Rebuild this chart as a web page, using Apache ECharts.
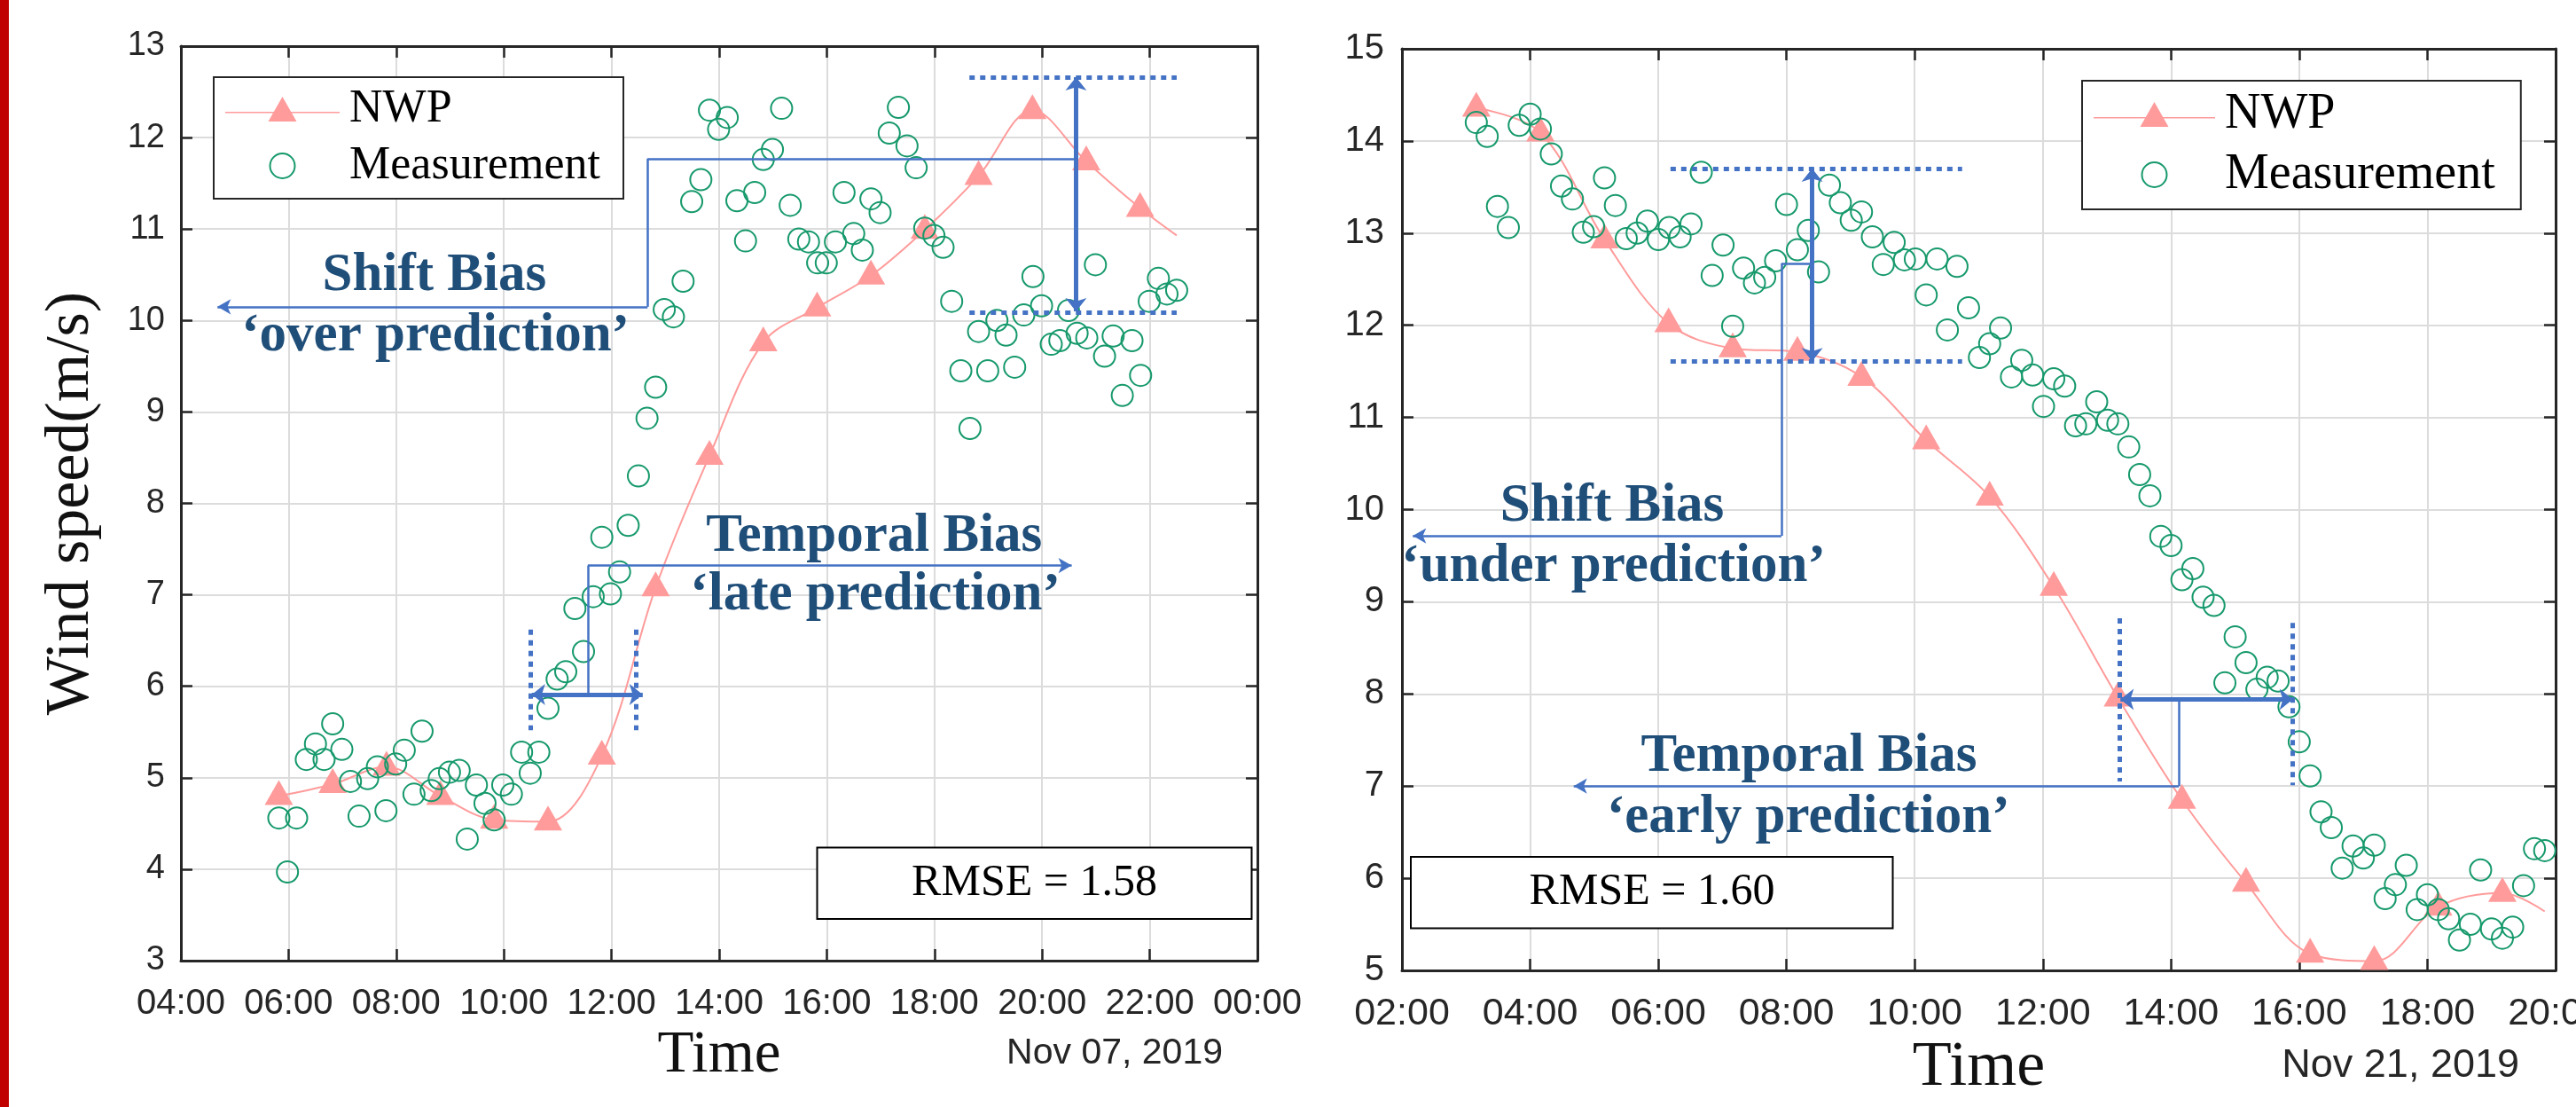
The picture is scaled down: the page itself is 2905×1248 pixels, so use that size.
<!DOCTYPE html>
<html>
<head>
<meta charset="utf-8">
<title>NWP vs measurement, wind speed</title>
<script src="https://cdn.jsdelivr.net/npm/echarts@6.0.0/dist/echarts.min.js"></script>
<style>
  html, body { margin: 0; padding: 0; background: #fff; }
  #chart { width: 2905px; height: 1248px; }
</style>
</head>
<body>
<div id="chart"></div>
<script>
// ---- Nov 07, 2019 (left panel), time in hours of the day ----
const xRangeA = [4, 24];
const yRangeA = [3, 13];
// NWP forecast, hourly; the last point is where the curve ends (no marker)
const nwpHourA = [5.82, 6.82, 7.82, 8.82, 9.82, 10.82, 11.82, 12.82, 13.82, 14.82, 15.82, 16.82, 17.82, 18.82, 19.82, 20.82, 21.82, 22.5];
const nwpSpeedA = [4.80, 4.93, 5.12, 4.80, 4.54, 4.52, 5.24, 7.08, 8.52, 9.76, 10.14, 10.49, 10.99, 11.58, 12.30, 11.74, 11.23, 10.93];
// measurements, ~10 min
const measHourA = [5.82, 5.98, 6.15, 6.33, 6.50, 6.66, 6.82, 6.99, 7.15, 7.31, 7.47, 7.65, 7.81, 7.99, 8.15, 8.33, 8.48, 8.65, 8.80, 8.99,
  9.17, 9.32, 9.49, 9.65, 9.82, 9.98, 10.14, 10.33, 10.49, 10.65, 10.82, 10.99, 11.15, 11.32, 11.48, 11.66, 11.82, 11.98, 12.15, 12.31,
  12.50, 12.66, 12.82, 12.98, 13.15, 13.33, 13.49, 13.66, 13.82, 13.99, 14.15, 14.33, 14.49, 14.66, 14.82, 14.99, 15.16, 15.32, 15.48, 15.66,
  15.83, 15.99, 16.16, 16.32, 16.50, 16.66, 16.82, 16.99, 17.16, 17.33, 17.49, 17.66, 17.82, 17.99, 18.16, 18.32, 18.49, 18.66, 18.82, 18.99,
  19.16, 19.33, 19.49, 19.66, 19.83, 19.99, 20.17, 20.33, 20.49, 20.65, 20.83, 20.99, 21.16, 21.32, 21.49, 21.67, 21.83, 21.99, 22.16, 22.32, 22.50];
const measSpeedA = [4.56, 3.97, 4.56, 5.20, 5.37, 5.20, 5.59, 5.31, 4.96, 4.58, 4.99, 5.12, 4.64, 5.15, 5.30, 4.82, 5.51, 4.86, 4.99, 5.06,
  5.08, 4.33, 4.92, 4.72, 4.54, 4.92, 4.82, 5.28, 5.05, 5.28, 5.76, 6.08, 6.16, 6.85, 6.38, 6.98, 7.63, 7.01, 7.25, 7.76,
  8.30, 8.93, 9.27, 10.12, 10.04, 10.43, 11.30, 11.54, 12.30, 12.09, 12.22, 11.31, 10.87, 11.40, 11.76, 11.87, 12.32, 11.26, 10.89, 10.86,
  10.63, 10.63, 10.86, 11.40, 10.95, 10.77, 11.33, 11.18, 12.05, 12.33, 11.91, 11.67, 11.01, 10.93, 10.80, 10.21, 9.45, 8.82, 9.88, 9.45,
  10.00, 9.84, 9.49, 10.06, 10.48, 10.16, 9.74, 9.78, 10.11, 9.86, 9.81, 10.61, 9.61, 9.83, 9.18, 9.78, 9.40, 10.21, 10.46, 10.29, 10.33];

// ---- Nov 21, 2019 (right panel) ----
const xRangeB = [2, 20];
const yRangeB = [5, 15];
const nwpHourB = [3.16, 4.16, 5.16, 6.16, 7.16, 8.17, 9.17, 10.18, 11.17, 12.17, 13.17, 14.17, 15.17, 16.17, 17.17, 18.17, 19.17, 19.83];
const nwpSpeedB = [14.36, 14.09, 12.93, 12.02, 11.75, 11.71, 11.44, 10.75, 10.14, 9.16, 7.96, 6.85, 5.95, 5.18, 5.10, 5.69, 5.84, 5.64];
const measHourB = [3.16, 3.33, 3.49, 3.66, 3.83, 4.00, 4.16, 4.33, 4.49, 4.66, 4.83, 4.99, 5.16, 5.33, 5.50, 5.67, 5.83, 6.00, 6.17, 6.34,
  6.51, 6.67, 6.84, 7.01, 7.16, 7.33, 7.50, 7.66, 7.83, 8.00, 8.17, 8.34, 8.50, 8.67, 8.84, 9.01, 9.17, 9.34, 9.51, 9.68,
  9.84, 10.01, 10.18, 10.35, 10.51, 10.66, 10.84, 11.01, 11.17, 11.34, 11.51, 11.67, 11.84, 12.01, 12.17, 12.34, 12.51, 12.67, 12.84, 13.01,
  13.17, 13.34, 13.51, 13.67, 13.84, 14.00, 14.17, 14.34, 14.50, 14.67, 14.84, 15.00, 15.17, 15.34, 15.50, 15.67, 15.84, 16.00, 16.17, 16.34,
  16.50, 16.67, 16.84, 17.00, 17.17, 17.34, 17.50, 17.67, 17.84, 18.00, 18.17, 18.33, 18.50, 18.67, 18.83, 19.00, 19.17, 19.33, 19.50, 19.67, 19.83];
const measSpeedB = [14.20, 14.05, 13.29, 13.06, 14.17, 14.29, 14.13, 13.86, 13.51, 13.37, 13.01, 13.07, 13.60, 13.30, 12.94, 13.00, 13.13, 12.93, 13.06, 12.96,
  13.10, 13.66, 12.54, 12.87, 11.99, 12.62, 12.46, 12.52, 12.70, 13.31, 12.82, 13.03, 12.58, 13.52, 13.33, 13.14, 13.23, 12.96, 12.66, 12.90,
  12.71, 12.72, 12.33, 12.72, 11.95, 12.64, 12.19, 11.65, 11.80, 11.97, 11.44, 11.62, 11.46, 11.12, 11.42, 11.34, 10.91, 10.93, 11.17, 10.97,
  10.93, 10.68, 10.38, 10.15, 9.71, 9.61, 9.24, 9.36, 9.05, 8.96, 8.12, 8.62, 8.34, 8.05, 8.18, 8.14, 7.86, 7.48, 7.11, 6.72,
  6.55, 6.11, 6.35, 6.22, 6.36, 5.78, 5.93, 6.14, 5.66, 5.82, 5.66, 5.56, 5.33, 5.50, 6.09, 5.45, 5.35, 5.47, 5.92, 6.32, 6.30];

// ---- bias annotations, in [hour, m/s] ----
const shiftLinkA = [[12.67, 10.15], [12.67, 11.77], [20.63, 11.77]];
const shiftArrowA = [[12.67, 10.15], [4.68, 10.15]];
const shiftSpanA = [[20.63, 12.66], [20.63, 10.10]];
const shiftGuideA = [[[18.65, 12.66], [22.5, 12.66]], [[18.65, 10.09], [22.5, 10.09]]];
const tempLinkA = [[11.56, 5.91], [11.56, 7.32]];
const tempArrowA = [[11.56, 7.32], [20.55, 7.32]];
const tempSpanA = [[10.52, 5.91], [12.58, 5.91]];
const tempGuideA = [[[10.50, 6.62], [10.50, 5.52]], [[12.46, 6.62], [12.46, 5.52]]];
const notesA = [['Shift Bias', 8.71, 10.49], ['‘over prediction’', 8.73, 9.83],
  ['Temporal Bias', 16.88, 7.63], ['‘late prediction’', 16.90, 6.99]];

const shiftLinkB = [[7.92, 9.715], [7.92, 12.67], [8.40, 12.67]];
const shiftArrowB = [[7.92, 9.715], [2.17, 9.715]];
const shiftSpanB = [[8.40, 13.70], [8.40, 11.61]];
const shiftGuideB = [[[6.19, 13.70], [10.74, 13.70]], [[6.19, 11.61], [10.74, 11.61]]];
const tempLinkB = [[14.12, 7.94], [14.12, 7.0]];
const tempArrowB = [[14.12, 7.0], [4.68, 7.0]];
const tempSpanB = [[13.21, 7.94], [15.90, 7.94]];
const tempGuideB = [[[13.19, 8.82], [13.19, 7.05]], [[15.90, 8.77], [15.90, 7.01]]];
const notesB = [['Shift Bias', 5.28, 10.03], ['‘under prediction’', 5.30, 9.38],
  ['Temporal Bias', 8.35, 7.32], ['‘early prediction’', 8.34, 6.65]];

const rmseA = 'RMSE = 1.58';
const rmseB = 'RMSE = 1.60';

const sans = '"Liberation Sans", Arial, sans-serif';
const serif = '"Liberation Serif", "Times New Roman", serif';
const ink = '#262626';
const pink = '#FF9B9B';
const green = '#16996B';
const blue = '#4472C4';
const navy = '#1F4E79';

const thin = { color: blue, width: 2.5, type: 'solid' };
const thick = { color: blue, width: 5, type: 'solid' };
const dots = { color: blue, width: 5, type: [6, 6] };

const chart = echarts.init(document.getElementById('chart'));

function hhmm(v) {
  const h = v % 24;
  return (h < 10 ? '0' : '') + h + ':00';
}

function zip(xs, ys) {
  return xs.map((x, i) => [x, ys[i]]);
}

function nwpData(xs, ys) {
  // markers on the hourly values only, the last point just ends the curve
  return xs.map((x, i) => i === xs.length - 1 ? { value: [x, ys[i]], symbol: 'none' } : [x, ys[i]]);
}

function seg(a, b, style, endSym, startSym, size) {
  const s = size || [13, 15];
  return [
    { coord: a, symbol: startSym || 'none', symbolSize: s, lineStyle: style },
    { coord: b, symbol: endSym || 'none', symbolSize: s }
  ];
}

function path(pts, style) {
  const out = [];
  for (let i = 0; i < pts.length - 1; i++) out.push(seg(pts[i], pts[i + 1], style));
  return out;
}

function marks(link, arrow, span, guide, tLink, tArrow, tSpan, tGuide) {
  return [].concat(
    path(link, thin),
    [seg(arrow[0], arrow[1], thin, 'arrow')],
    guide.map(g => seg(g[0], g[1], dots)),
    [seg(span[0], span[1], thick, 'arrow', 'arrow', [18, 15])],
    path(tLink, thin),
    [seg(tArrow[0], tArrow[1], thin, 'arrow')],
    tGuide.map(g => seg(g[0], g[1], dots)),
    [seg(tSpan[0], tSpan[1], thick, 'arrow', 'arrow', [18, 15])]
  );
}

function noteData(notes) {
  return notes.map(n => ({ name: n[0], coord: [n[1], n[2]] }));
}

function mainX(grid, range, fs, margin, nameSize) {
  return {
    gridIndex: grid, type: 'value', position: 'bottom',
    min: range[0], max: range[1], interval: 2,
    name: 'Time', nameLocation: 'middle', nameGap: 74, nameMoveOverlap: false,
    nameTextStyle: { fontFamily: serif, fontSize: nameSize, color: '#111' },
    axisLine: { show: true, onZero: false, lineStyle: { color: ink, width: 3 } },
    axisTick: { show: true, inside: true, length: 13, lineStyle: { color: ink, width: 2.5 } },
    axisLabel: { show: true, margin: margin, fontFamily: sans, fontSize: fs, color: ink, formatter: hhmm, hideOverlap: false },
    splitLine: { show: true, lineStyle: { color: '#dcdcdc', width: 2 } }
  };
}

function mainY(grid, range, fs, margin, name) {
  return {
    gridIndex: grid, type: 'value', position: 'left',
    min: range[0], max: range[1], interval: 1,
    name: name, nameLocation: 'middle', nameGap: 88, nameRotate: 90, nameMoveOverlap: false,
    nameTextStyle: { fontFamily: serif, fontSize: 70, color: '#111' },
    axisLine: { show: true, onZero: false, lineStyle: { color: ink, width: 3 } },
    axisTick: { show: true, inside: true, length: 13, lineStyle: { color: ink, width: 2.5 } },
    axisLabel: { show: true, margin: margin, fontFamily: sans, fontSize: fs, color: ink, hideOverlap: false },
    splitLine: { show: true, lineStyle: { color: '#dcdcdc', width: 2 } }
  };
}

function frame(grid, range, interval, pos) {
  return {
    gridIndex: grid, type: 'value', position: pos,
    min: range[0], max: range[1], interval: interval,
    axisLine: { show: true, onZero: false, lineStyle: { color: ink, width: 3 } },
    axisTick: { show: true, inside: true, length: 13, lineStyle: { color: ink, width: 2.5 } },
    axisLabel: { show: false },
    splitLine: { show: false }
  };
}

function legend(left, top, iconW, fs, padRight) {
  const mid = iconW / 2;
  return {
    left: left, top: top, orient: 'vertical',
    backgroundColor: '#fff', borderColor: ink, borderWidth: 2,
    padding: [10, padRight, 11, 13], itemGap: 12,
    itemWidth: iconW, itemHeight: 28,
    selectedMode: false,
    textStyle: { fontFamily: serif, fontSize: fs, color: '#000', padding: [0, 0, 0, 6] },
    data: [
      { name: 'NWP',
        icon: 'path://M0,17 L' + iconW + ',17 L' + iconW + ',18.6 L0,18.6 Z M' + (mid - 16) + ',28 L' + mid + ',0 L' + (mid + 16) + ',28 Z',
        itemStyle: { color: pink, borderWidth: 0 } },
      { name: 'Measurement', icon: 'circle',
        itemStyle: { color: 'rgba(0,0,0,0)', borderColor: green, borderWidth: 2 } }
    ]
  };
}

function nwpSeries(xi, yi, xs, ys, lines, notes) {
  return {
    name: 'NWP', type: 'line', xAxisIndex: xi, yAxisIndex: yi,
    data: nwpData(xs, ys),
    smooth: 0.35,
    symbol: 'triangle', symbolSize: [32, 28], symbolOffset: [0, -4],
    lineStyle: { color: pink, width: 2 },
    itemStyle: { color: pink },
    z: 2,
    markLine: {
      silent: true, symbol: 'none', animation: false,
      label: { show: false },
      data: lines
    },
    markPoint: {
      silent: true, symbol: 'circle', symbolSize: 1,
      itemStyle: { color: 'rgba(0,0,0,0)' },
      label: {
        show: true, position: 'inside', formatter: p => p.name,
        color: navy, fontFamily: serif, fontWeight: 'bold', fontSize: 61
      },
      data: notes
    }
  };
}

function measSeries(xi, yi, xs, ys) {
  return {
    name: 'Measurement', type: 'scatter', xAxisIndex: xi, yAxisIndex: yi,
    data: zip(xs, ys),
    symbol: 'circle', symbolSize: 24,
    itemStyle: { color: 'rgba(0,0,0,0)', borderColor: green, borderWidth: 2, opacity: 1 },
    z: 3
  };
}

const option = {
  animation: false,
  backgroundColor: '#fff',
  grid: [
    { left: 204, top: 52, width: 1214, height: 1031, containLabel: false, outerBoundsMode: 'none' },
    { left: 1581, top: 55, width: 1301, height: 1039, containLabel: false, outerBoundsMode: 'none' }
  ],
  xAxis: [
    mainX(0, xRangeA, 40, 29, 67),
    frame(0, xRangeA, 2, 'top'),
    mainX(1, xRangeB, 43, 28, 72),
    frame(1, xRangeB, 2, 'top')
  ],
  yAxis: [
    mainY(0, yRangeA, 38, 18, 'Wind speed(m/s)'),
    frame(0, yRangeA, 1, 'right'),
    mainY(1, yRangeB, 40, 20, ''),
    frame(1, yRangeB, 1, 'right')
  ],
  legend: [
    legend(241, 87, 129, 52, 26),
    legend(2348, 91, 137, 56, 29)
  ],
  series: [
    nwpSeries(0, 0, nwpHourA, nwpSpeedA,
      marks(shiftLinkA, shiftArrowA, shiftSpanA, shiftGuideA, tempLinkA, tempArrowA, tempSpanA, tempGuideA),
      noteData(notesA)),
    measSeries(0, 0, measHourA, measSpeedA),
    nwpSeries(2, 2, nwpHourB, nwpSpeedB,
      marks(shiftLinkB, shiftArrowB, shiftSpanB, shiftGuideB, tempLinkB, tempArrowB, tempSpanB, tempGuideB),
      noteData(notesB)),
    measSeries(2, 2, measHourB, measSpeedB)
  ],
  graphic: [
    { type: 'rect', z: 100, shape: { x: 0, y: 0, width: 10, height: 1248 }, style: { fill: '#C00000' } },
    { type: 'rect', z: 100, shape: { x: 921.5, y: 955.5, width: 490, height: 80.5 }, style: { fill: '#fff', stroke: '#000', lineWidth: 2 } },
    { type: 'text', z: 101, x: 1166.5, y: 996, style: { text: rmseA, align: 'center', verticalAlign: 'middle', fontFamily: serif, fontSize: 50, fill: '#000' } },
    { type: 'rect', z: 100, shape: { x: 1591, y: 966, width: 543.5, height: 80.5 }, style: { fill: '#fff', stroke: '#000', lineWidth: 2 } },
    { type: 'text', z: 101, x: 1863, y: 1006, style: { text: rmseB, align: 'center', verticalAlign: 'middle', fontFamily: serif, fontSize: 50, fill: '#000' } },
    { type: 'text', z: 101, x: 1379, y: 1167, style: { text: 'Nov 07, 2019', align: 'right', verticalAlign: 'top', fontFamily: sans, fontSize: 41, fill: ink } },
    { type: 'text', z: 101, x: 2841, y: 1179, style: { text: 'Nov 21, 2019', align: 'right', verticalAlign: 'top', fontFamily: sans, fontSize: 45, fill: ink } }
  ]
};

option && chart.setOption(option);
</script>
</body>
</html>
